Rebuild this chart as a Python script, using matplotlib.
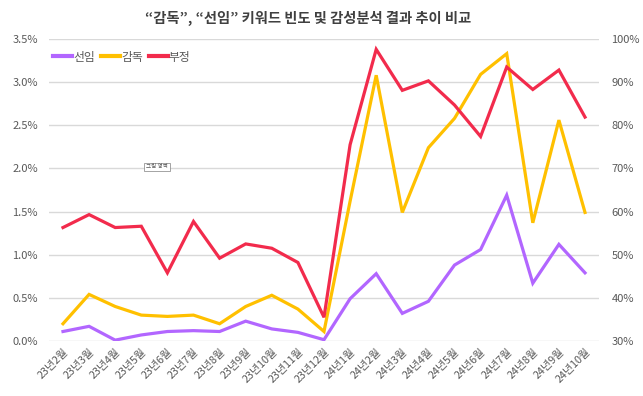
import matplotlib
matplotlib.use("Agg")
import matplotlib.pyplot as plt
from matplotlib.ticker import FuncFormatter

plt.rcParams['font.family'] = ['Noto Sans CJK KR', 'DejaVu Sans']

months = ["23년2월", "23년3월", "23년4월", "23년5월", "23년6월", "23년7월", "23년8월",
          "23년9월", "23년10월", "23년11월", "23년12월", "24년1월", "24년2월", "24년3월",
          "24년4월", "24년5월", "24년6월", "24년7월", "24년8월", "24년9월", "24년10월"]

# left axis (%)
seonim = [0.11, 0.17, 0.01, 0.07, 0.11, 0.12, 0.11, 0.23, 0.14, 0.10, 0.015,
          0.49, 0.78, 0.32, 0.46, 0.88, 1.06, 1.69, 0.67, 1.12, 0.79]
gamdok = [0.20, 0.54, 0.40, 0.30, 0.285, 0.30, 0.20, 0.40, 0.53, 0.37, 0.11,
          1.62, 3.08, 1.49, 2.24, 2.58, 3.09, 3.33, 1.37, 2.56, 1.49]
# right axis (%)
bujeong = [56.3, 59.3, 56.3, 56.6, 45.8, 57.7, 49.2, 52.5, 51.5, 48.2, 35.5,
           75.5, 97.6, 88.1, 90.3, 84.7, 77.4, 93.5, 88.3, 92.8, 81.9]

title = "“감독”, “선임” 키워드 빈도 및 감성분석 결과 추이 비교"

C_PURPLE = '#B266FF'
C_YELLOW = '#FFC000'
C_RED = '#F22B4C'
TXT = '#595959'
GRID = '#D9D9D9'

fig = plt.figure(figsize=(6.43, 3.96), dpi=100)
ax = fig.add_axes([49/643, 1-341/396, 550/643, (341-39)/396])
ax2 = ax.twinx()

x = list(range(len(months)))
l1, = ax.plot(x, seonim, color=C_PURPLE, lw=2.3, label='선임', solid_joinstyle='miter')
l2, = ax.plot(x, gamdok, color=C_YELLOW, lw=2.3, label='감독', solid_joinstyle='miter')
l3, = ax2.plot(x, bujeong, color=C_RED, lw=2.3, label='부정', solid_joinstyle='miter')

ax.set_ylim(0, 3.5)
ax.set_yticks([i*0.5 for i in range(8)])
ax.yaxis.set_major_formatter(FuncFormatter(lambda v, p: f"{v:.1f}%"))
ax2.set_ylim(30, 100)
ax2.set_yticks(range(30, 101, 10))
ax2.yaxis.set_major_formatter(FuncFormatter(lambda v, p: f"{int(v)}%"))

ax.set_xlim(-0.536, 20.536)
ax.set_xticks(x)
ax.set_xticklabels(months, rotation=45, ha='right', rotation_mode='anchor',
                   fontsize=7.8, color=TXT)

ax.grid(axis='y', color=GRID, lw=1)
ax.set_axisbelow(True)
for a in (ax, ax2):
    for s in a.spines.values():
        s.set_visible(False)
    a.tick_params(length=0)
ax.tick_params(axis='y', labelsize=8, labelcolor=TXT, pad=8)
ax.tick_params(axis='x', pad=4)
ax2.tick_params(axis='y', labelsize=8, labelcolor=TXT, pad=9)

leg = ax.legend(handles=[l1, l2, l3], loc='upper left', bbox_to_anchor=(-0.005, 0.985),
                ncol=3, frameon=False, fontsize=8.5, handlelength=1.6, handletextpad=0.1,
                columnspacing=0.5, borderaxespad=0.2)
for t in leg.get_texts():
    t.set_color(TXT)
for h in leg.get_lines():
    h.set_linewidth(3)

fig.text(308/643, 1-18/396, title, ha='center', va='center', fontsize=10.3,
         fontweight='bold', color='#404040')

ax.text(157/643, 1-167/396, "그림 영역", transform=fig.transFigure, fontsize=4,
        color=TXT, ha='center', va='center',
        bbox=dict(boxstyle='square,pad=0.3', fc='white', ec='#808080', lw=0.5))

fig.savefig('out.png', dpi=100)
